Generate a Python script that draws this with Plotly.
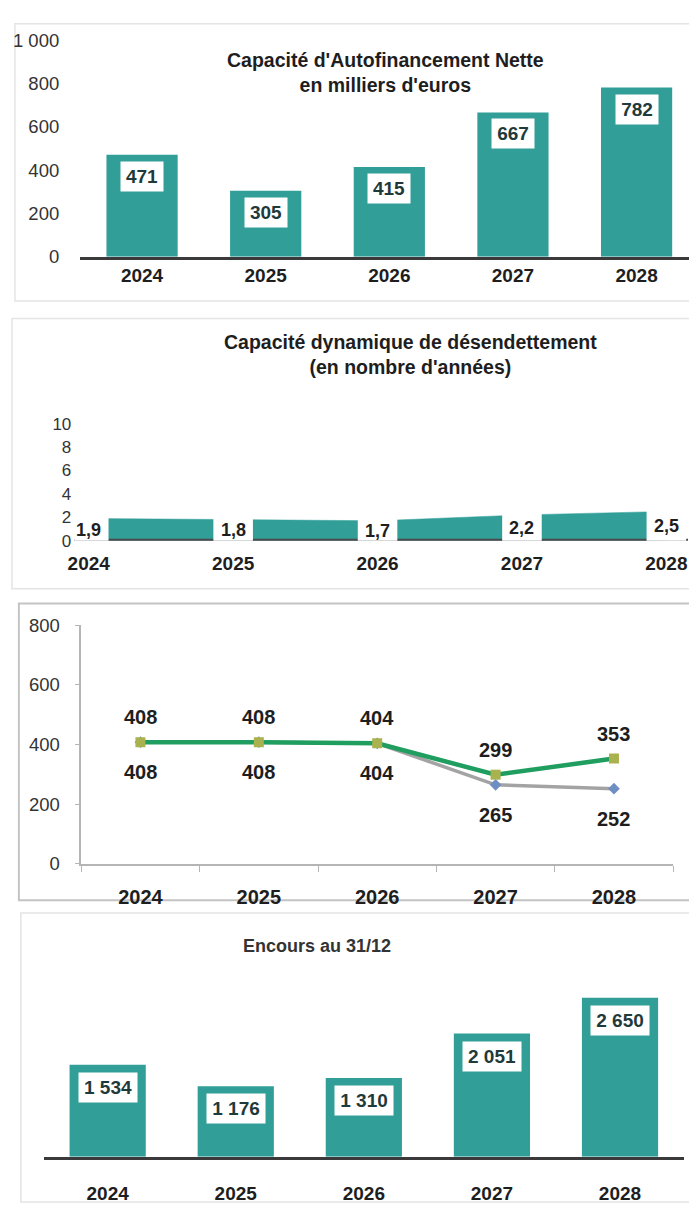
import plotly.graph_objects as go

# ---------------- data ----------------
years = ["2024", "2025", "2026", "2027", "2028"]
caf_nette = [471, 305, 415, 667, 782]
caf_labels = ["471", "305", "415", "667", "782"]
caf_ticks = [0, 200, 400, 600, 800, 1000]

cdd_values = [1.9, 1.8, 1.7, 2.2, 2.5]
cdd_labels = ["1,9", "1,8", "1,7", "2,2", "2,5"]
cdd_ticks = [0, 2, 4, 6, 8, 10]

serie_grise = [408, 408, 404, 265, 252]
serie_verte = [408, 408, 404, 299, 353]
line_ticks = [0, 200, 400, 600, 800]

encours = [1534, 1176, 1310, 2051, 2650]
encours_labels = ["1 534", "1 176", "1 310", "2 051", "2 650"]

# ---------------- style ----------------
W, H = 689, 1210
TEAL = "#319e98"
GREEN = "#1f9e60"
GREY = "#a3a3a3"
OLIVE = "#a9b24e"
BLUE = "#6f8fc4"
TXT = "#1e1e1e"
LBL = "#1f3a3a"
FONT = "Liberation Sans, Arial, sans-serif"


def py(p):
    return 1 - p / H


def px(p):
    return p / W


fig = go.Figure()

# Panel 1 : CAF nette
fig.add_trace(go.Bar(x=years, y=caf_nette, marker=dict(color=TEAL, line=dict(width=0)),
                     width=0.576, xaxis="x", yaxis="y", hoverinfo="skip"))
# Panel 2 : capacité de désendettement (area)
fig.add_trace(go.Scatter(x=list(range(len(years))), y=cdd_values, mode="lines", fill="tozeroy",
                         fillcolor=TEAL, line=dict(color=TEAL, width=0.5), xaxis="x2", yaxis="y2",
                         hoverinfo="skip"))
# Panel 3 : lines
fig.add_trace(go.Scatter(x=years, y=serie_grise, mode="lines+markers",
                         line=dict(color=GREY, width=3.5),
                         marker=dict(symbol="diamond", size=9, color=BLUE),
                         xaxis="x3", yaxis="y3", hoverinfo="skip"))
fig.add_trace(go.Scatter(x=years, y=serie_verte, mode="lines+markers",
                         line=dict(color=GREEN, width=4.5),
                         marker=dict(symbol="square", size=10, color=OLIVE),
                         xaxis="x3", yaxis="y3", hoverinfo="skip"))
# Panel 4 : encours
fig.add_trace(go.Bar(x=years, y=encours, marker=dict(color=TEAL, line=dict(width=0)),
                     width=0.595, xaxis="x4", yaxis="y4", hoverinfo="skip"))

annotations = []
shapes = []

# data labels panel 1
for i, (v, t) in enumerate(zip(caf_nette, caf_labels)):
    annotations.append(dict(x=i, y=v, xref="x", yref="y", text=t, showarrow=False,
                            yanchor="top", yshift=-6, bgcolor="white", width=40, height=27,
                            borderpad=1, font=dict(family=FONT, size=19, color=LBL, weight="bold")))
# data labels panel 2 with white covers
for i, (v, t) in enumerate(zip(cdd_values, cdd_labels)):
    shapes.append(dict(type="rect", xref="x2", yref="y2", x0=i - 0.137, x1=i + 0.137,
                       y0=-0.3, y1=v + 0.35, fillcolor="white", line=dict(width=0), layer="above"))
    annotations.append(dict(x=i, y=v / 2, xref="x2", yref="y2", text=t, showarrow=False,
                            yanchor="middle", font=dict(family=FONT, size=18, color=TXT, weight="bold")))
# data labels panel 3
for i, v in enumerate(serie_verte):
    annotations.append(dict(x=i, y=v, xref="x3", yref="y3", text=str(v), showarrow=False,
                            yanchor="middle", yshift=25,
                            font=dict(family=FONT, size=20, color=TXT, weight="bold")))
for i, v in enumerate(serie_grise):
    annotations.append(dict(x=i, y=v, xref="x3", yref="y3", text=str(v), showarrow=False,
                            yanchor="middle", yshift=-30,
                            font=dict(family=FONT, size=20, color=TXT, weight="bold")))
# data labels panel 4
for i, (v, t) in enumerate(zip(encours, encours_labels)):
    annotations.append(dict(x=i, y=v, xref="x4", yref="y4", text=t, showarrow=False,
                            yanchor="top", yshift=-7, bgcolor="white", width=56, height=27,
                            borderpad=1, font=dict(family=FONT, size=19, color=LBL, weight="bold")))

# titles
tfont = dict(family=FONT, size=19.5, color=TXT, weight="bold")
annotations += [
    dict(x=px(382), y=py(63), xref="paper", yref="paper", showarrow=False,
         text="Capacité d'Autofinancement Nette<br>en milliers d'euros", font=tfont,
         xanchor="center", yanchor="middle"),
    dict(x=px(408), y=py(350), xref="paper", yref="paper", showarrow=False,
         text="Capacité dynamique de désendettement<br>(en nombre d'années)", font=tfont,
         xanchor="center", yanchor="middle"),
    dict(x=px(313), y=py(952), xref="paper", yref="paper", showarrow=False,
         text="Encours au 31/12", font=dict(family=FONT, size=18, color="#333", weight="bold"),
         xanchor="center", yanchor="middle"),
]

# panel frames
for (x0, y0, y1, col, lw) in [(8, 13, 295, "#e4e4e4", 1.5), (5, 313, 588, "#e4e4e4", 1.5),
                              (12, 603, 905, "#c4c4c4", 2), (14, 918, 1212, "#e4e4e4", 1.5)]:
    shapes.append(dict(type="rect", xref="paper", yref="paper", x0=px(x0), x1=px(692),
                       y0=py(y1), y1=py(y0), line=dict(color=col, width=lw),
                       fillcolor="rgba(0,0,0,0)", layer="below"))

# baseline of panel 2 (drawn before white covers so they hide it)
shapes.insert(0, dict(type="line", xref="x2 domain", yref="y2", x0=0, x1=1, y0=0, y1=0,
                      line=dict(color="#4a4a4a", width=4), layer="above"))

year_font = dict(family=FONT, size=19, color=TXT, weight="bold")
ytick_font = dict(family=FONT, size=17, color="#333")
ytick_font_big = dict(family=FONT, size=18.5, color="#333")

fig.update_layout(
    width=W, height=H, margin=dict(l=0, r=0, t=0, b=0),
    paper_bgcolor="white", plot_bgcolor="white", showlegend=False,
    separators=", ",
    annotations=annotations, shapes=shapes,
    xaxis=dict(domain=[px(74), 1], range=[-0.5, 4.424], type="category", showgrid=False,
               showline=True, linecolor="#3a3a3a", linewidth=3, ticks="",
               tickfont=year_font, ticklabelstandoff=0, anchor="y"),
    yaxis=dict(domain=[py(250), py(30)], range=[0, 1000], tickvals=caf_ticks, showgrid=False,
               zeroline=False, showline=False, tickfont=ytick_font_big, ticklabelstandoff=20,
               separatethousands=True, anchor="x"),
    xaxis2=dict(domain=[px(68), px(688)], range=[-0.1, 4.15], tickvals=list(range(len(years))),
                ticktext=years, showgrid=False, zeroline=False, showline=False, ticks="",
                tickfont=year_font, ticklabelstandoff=9, anchor="y2"),
    yaxis2=dict(domain=[py(539), py(420)], range=[0, 10], tickvals=cdd_ticks, showgrid=False,
                zeroline=False, showline=False, tickfont=ytick_font, ticklabelstandoff=2,
                anchor="x2"),
    xaxis3=dict(domain=[px(75), px(673)], range=[-0.5, 4.5], type="category", showgrid=False,
                showline=True, linecolor="#b5b5b5", linewidth=1.5, ticks="outside",
                tickson="boundaries", ticklen=6, tickcolor="#b5b5b5",
                tickfont=dict(family=FONT, size=20, color=TXT, weight="bold"),
                ticklabelstandoff=14, anchor="y3"),
    yaxis3=dict(domain=[py(868), py(625)], range=[0, 800], tickvals=line_ticks, showgrid=False,
                zeroline=False, showline=True, linecolor="#b5b5b5", linewidth=1.5,
                ticks="outside", ticklen=4, tickcolor="#b5b5b5", tickfont=ytick_font_big,
                ticklabelstandoff=12, anchor="x3"),
    xaxis4=dict(domain=[px(37), px(684)], range=[-0.5, 4.5], type="category", showgrid=False,
                showline=True, linecolor="#3a3a3a", linewidth=3, ticks="",
                tickfont=year_font, ticklabelstandoff=17, anchor="y4"),
    yaxis4=dict(domain=[py(1166), py(990)], range=[0, 2880], showgrid=False, zeroline=False,
                showline=False, showticklabels=False, anchor="x4"),
)

fig.write_html("out.html")
